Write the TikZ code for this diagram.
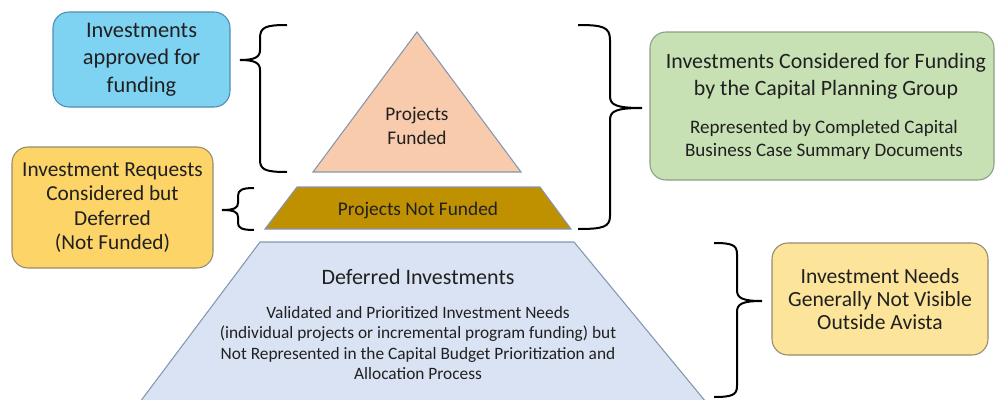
\documentclass[tikz,border=0pt]{standalone}
\usepackage{fontspec}
\setmainfont{Carlito}
\definecolor{txt}{RGB}{32,32,32}
\definecolor{bluefill}{RGB}{126,210,242}
\definecolor{blueedge}{RGB}{80,140,175}
\definecolor{yelfill}{RGB}{252,212,104}
\definecolor{yeledge}{RGB}{150,140,110}
\definecolor{greenfill}{RGB}{199,224,180}
\definecolor{greenedge}{RGB}{140,160,130}
\definecolor{paleyel}{RGB}{253,228,155}
\definecolor{peach}{RGB}{248,203,173}
\definecolor{gold}{RGB}{191,144,0}
\definecolor{paleblue}{RGB}{218,227,243}
\definecolor{slate}{RGB}{132,151,176}
\tikzset{
  x=0.75pt, y=-0.75pt,
  card/.style={draw, line width=0.8pt, rounded corners=12pt, align=center,
    text=txt, inner sep=0pt},
  tier/.style={draw=slate, line width=0.8pt},
  label/.style={align=center, text=txt, inner sep=0pt},
  curly/.style={draw=black, line width=1.5pt},
}
\begin{document}
\begin{tikzpicture}
\useasboundingbox (0,0) rectangle (997,400);

% pyramid tiers
\path[tier, fill=peach] (417,32) -- (521,172) -- (313,172) -- cycle;
\path[tier, fill=gold] (297,187) -- (540,187) -- (571,229) -- (265,229) -- cycle;
\path[tier, fill=paleblue] (260,242) -- (574,242) -- (706,402) -- (140,402) -- cycle;

\node[label, font=\fontsize{14.5}{17.5}\selectfont] (funded) at (417,126) {Projects\\Funded};
\node[label, font=\fontsize{14.5}{17}\selectfont] (notfunded) at (418,210) {Projects Not Funded};
\node[label, font=\fontsize{16.5}{19}\selectfont] (deferred) at (418,277) {Deferred Investments};
\node[label, font=\fontsize{13}{15.3}\selectfont] (deferreddesc) at (418,343)
  {Validated and Prioritized Investment Needs\\(individual projects or incremental program funding) but\\Not Represented in the Capital Budget Prioritization and\\Allocation Process};

% side cards
\node[card, draw=blueedge, fill=bluefill, minimum width=177*0.75pt, minimum height=95*0.75pt,
  font=\fontsize{16.8}{20.6}\selectfont] (approved) at (141.5,59.5)
  {Investments\\approved for\\funding};
\node[card, draw=yeledge, fill=yelfill, minimum width=201*0.75pt, minimum height=121*0.75pt,
  font=\fontsize{16}{18.4}\selectfont] (requests) at (112.5,207.5)
  {Investment Requests\\Considered but\\Deferred\\(Not Funded)};
\node[card, draw=greenedge, fill=greenfill, minimum width=344*0.75pt, minimum height=148*0.75pt] (considered) at (822,106) {};
\node[label, font=\fontsize{16.4}{20.3}\selectfont] (considtitle) at (826,76)
  {Investments Considered for Funding\\by the Capital Planning Group};
\node[label, font=\fontsize{14.3}{17.2}\selectfont] (considsub) at (824,140)
  {Represented by Completed Capital\\Business Case Summary Documents};
\node[card, draw=yeledge, fill=paleyel, minimum width=216*0.75pt, minimum height=112*0.75pt,
  font=\fontsize{16.2}{17.5}\selectfont] (needs) at (880,299)
  {Investment Needs\\Generally Not Visible\\Outside Avista};

% braces
\path[curly] (287,25) .. controls (266,25) and (260,27) .. (260,38) -- (260,50)
  .. controls (260,57) and (255,60) .. (240,60)
  .. controls (255,60) and (260,63) .. (260,70) -- (260,160)
  .. controls (260,170) and (266,172) .. (287,172);
\path[curly] (254,188) .. controls (242,188) and (238,190) .. (238,196) -- (238,203)
  .. controls (238,208) and (234,210) .. (222,210)
  .. controls (234,210) and (238,212) .. (238,217) -- (238,223)
  .. controls (238,228) and (242,230) .. (254,230);
\path[curly] (578,25) .. controls (603,25) and (610,27) .. (610,40) -- (610,96)
  .. controls (610,105) and (616,108) .. (642,108)
  .. controls (616,108) and (610,111) .. (610,120) -- (610,216)
  .. controls (610,227) and (603,229) .. (578,229);
\path[curly] (714,243) .. controls (732,243) and (737,245) .. (737,254) -- (737,290)
  .. controls (737,298) and (742,301) .. (762,301)
  .. controls (742,301) and (737,304) .. (737,312) -- (737,386)
  .. controls (737,395) and (732,397) .. (714,397);
\end{tikzpicture}
\end{document}
